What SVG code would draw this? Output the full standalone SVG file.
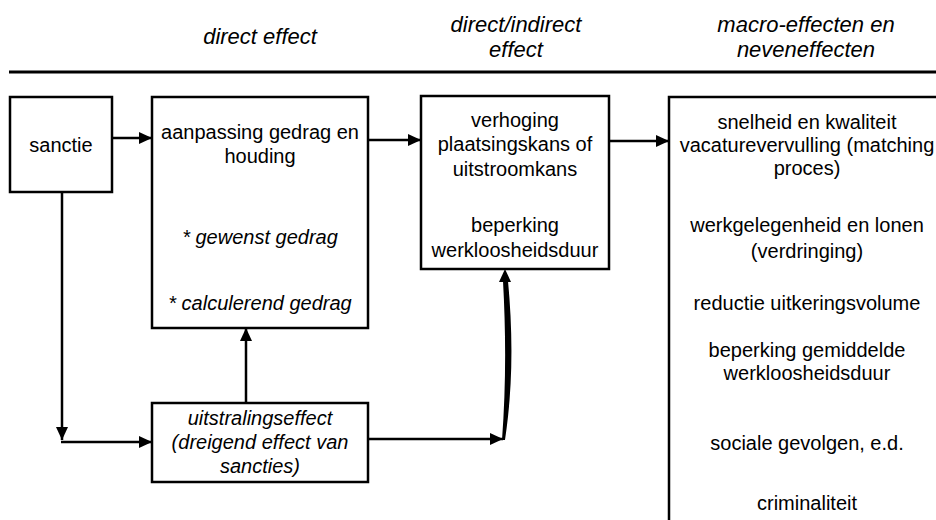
<svg xmlns="http://www.w3.org/2000/svg" width="936" height="520" viewBox="0 0 936 520">
  <style>
    .box { fill: #fff; stroke: #000; stroke-width: 2.5; }
    .t { font-family: "Liberation Sans", Arial, sans-serif; font-size: 20px; fill: #000; text-anchor: middle; }
    .i { font-style: italic; }
    .hd { font-family: "Liberation Sans", Arial, sans-serif; font-size: 22px; font-style: italic; fill: #000; text-anchor: middle; }
    .ln { fill: none; stroke: #000; stroke-width: 2.5; }
  </style>
  <defs>
    <marker id="arr" viewBox="0 0 13 12" refX="13" refY="6" markerWidth="13" markerHeight="12" markerUnits="userSpaceOnUse" orient="auto">
      <path d="M0,0 L13,6 L0,12 Z" fill="#000"/>
    </marker>
  </defs>
  <rect width="936" height="520" fill="#fff"/>

  <!-- column headings -->
  <g id="headings">
    <text class="hd" x="260" y="44">direct effect</text>
    <text class="hd" x="516" y="32">direct/indirect</text>
    <text class="hd" x="516" y="57">effect</text>
    <text class="hd" x="806" y="32">macro-effecten en</text>
    <text class="hd" x="806" y="57">neveneffecten</text>
    <line x1="9" y1="72" x2="936" y2="72" stroke="#000" stroke-width="3"/>
  </g>

  <g id="sanctie">
    <rect class="box" x="10" y="97" width="102" height="95"/>
    <text class="t" x="61" y="152">sanctie</text>
  </g>

  <g id="aanpassing">
    <rect class="box" x="152" y="97" width="216" height="231"/>
    <text class="t" x="260" y="139">aanpassing gedrag en</text>
    <text class="t" x="260" y="163">houding</text>
    <text class="t i" x="260" y="244">* gewenst gedrag</text>
    <text class="t i" x="260" y="310">* calculerend gedrag</text>
  </g>

  <g id="uitstraling">
    <rect class="box" x="152" y="403" width="216" height="79"/>
    <text class="t i" x="260" y="425">uitstralingseffect</text>
    <text class="t i" x="260" y="449">(dreigend effect van</text>
    <text class="t i" x="260" y="473">sancties)</text>
  </g>

  <g id="verhoging">
    <rect class="box" x="421" y="96" width="188" height="173"/>
    <text class="t" x="515" y="127">verhoging</text>
    <text class="t" x="515" y="151">plaatsingskans of</text>
    <text class="t" x="515" y="176">uitstroomkans</text>
    <text class="t" x="515" y="232">beperking</text>
    <text class="t" x="515" y="257">werkloosheidsduur</text>
  </g>

  <g id="macro">
    <rect class="box" x="669" y="97" width="280" height="440"/>
    <text class="t" x="807" y="129">snelheid en kwaliteit</text>
    <text class="t" x="807" y="152">vacaturevervulling (matching</text>
    <text class="t" x="807" y="175">proces)</text>
    <text class="t" x="807" y="232">werkgelegenheid en lonen</text>
    <text class="t" x="807" y="258">(verdringing)</text>
    <text class="t" x="807" y="310">reductie uitkeringsvolume</text>
    <text class="t" x="807" y="357">beperking gemiddelde</text>
    <text class="t" x="807" y="380">werkloosheidsduur</text>
    <text class="t" x="807" y="450">sociale gevolgen, e.d.</text>
    <text class="t" x="807" y="510">criminaliteit</text>
  </g>

  <g id="connectors">
    <line class="ln" x1="112" y1="138" x2="152" y2="138" marker-end="url(#arr)"/>
    <line class="ln" x1="368" y1="140" x2="421" y2="140" marker-end="url(#arr)"/>
    <line class="ln" x1="609" y1="141" x2="669" y2="141" marker-end="url(#arr)"/>
    <line class="ln" x1="62" y1="192" x2="62" y2="440" marker-end="url(#arr)"/>
    <line class="ln" x1="61" y1="442" x2="152" y2="442" marker-end="url(#arr)"/>
    <line class="ln" x1="246" y1="403" x2="246" y2="328" marker-end="url(#arr)"/>
    <line class="ln" x1="368" y1="439" x2="503" y2="439" marker-end="url(#arr)"/>
    <!-- heavy curved stroke rising to the outcome box -->
    <path d="M503,281 C506,334 506,387 502,440 L505,440 C513,387 513,334 508,281 Z" fill="#000"/>
    <path d="M505,269 L511,282 L499,282 Z" fill="#000"/>
  </g>
</svg>
